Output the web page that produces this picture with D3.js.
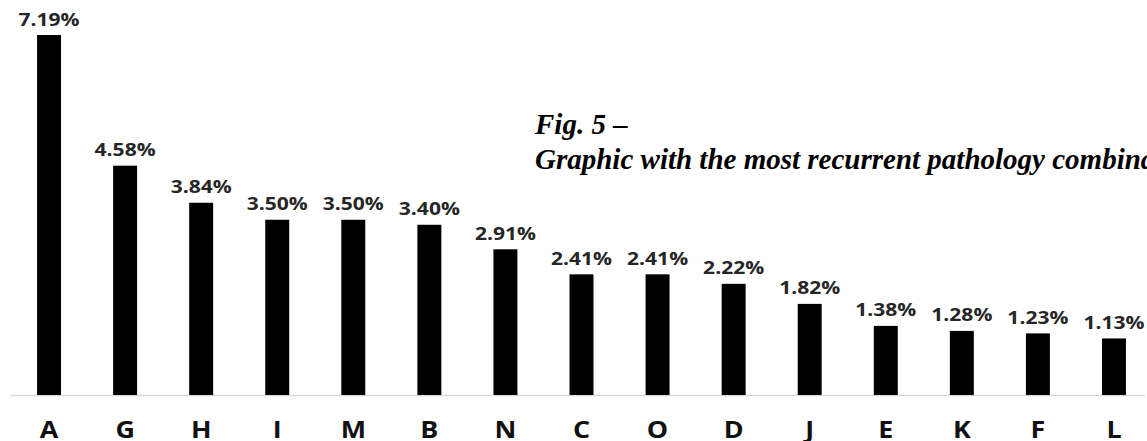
<!DOCTYPE html>
<html>
<head>
<meta charset="utf-8">
<script src="https://cdn.jsdelivr.net/npm/d3@7"></script>
<style>
  html, body { margin: 0; padding: 0; background: #fff; overflow: hidden; }
  svg { display: block; }
</style>
</head>
<body>
<svg id="chart" width="1147" height="441"></svg>
<script>
// Share of each pathology combination (%), sorted high to low
const categories = ["A", "G", "H", "I", "M", "B", "N", "C", "O", "D", "J", "E", "K", "F", "L"];
const values = [7.19, 4.58, 3.84, 3.50, 3.50, 3.40, 2.91, 2.41, 2.41, 2.22, 1.82, 1.38, 1.28, 1.23, 1.13];
const valueLabels = ["7.19%", "4.58%", "3.84%", "3.50%", "3.50%", "3.40%", "2.91%", "2.41%", "2.41%", "2.22%", "1.82%", "1.38%", "1.28%", "1.23%", "1.13%"];
const titleLines = ["Fig. 5 \u2013", "Graphic with the most recurrent pathology combinations"];

const baseY = 395;
const svg = d3.select("#chart");

const x = d3.scaleBand()
  .domain(categories)
  .range([11, 1152])
  .paddingInner(0.685)
  .paddingOuter(0.3425);

const y = d3.scaleLinear()
  .domain([0, 7.19])
  .range([baseY, 35]);

// baseline
svg.append("line")
  .attr("x1", 10).attr("x2", 1145)
  .attr("y1", baseY + 0.5).attr("y2", baseY + 0.5)
  .attr("stroke", "#d9d9d9")
  .attr("stroke-width", 1.5);

// bars
svg.append("g").selectAll("rect")
  .data(values)
  .join("rect")
  .attr("x", (d, i) => x(categories[i]))
  .attr("width", x.bandwidth())
  .attr("y", d => y(d))
  .attr("height", d => baseY - y(d))
  .attr("fill", "#000");

// value labels above bars
svg.append("g").selectAll("text")
  .data(values)
  .join("text")
  .attr("transform", (d, i) =>
    `translate(${x(categories[i]) + x.bandwidth() / 2},${y(d) - 9.5}) scale(1.17,1)`)
  .attr("text-anchor", "middle")
  .attr("font-family", "'Open Sans', sans-serif")
  .attr("font-weight", 700)
  .attr("font-size", 18)
  .attr("fill", "#262626")
  .text((d, i) => valueLabels[i]);

// category axis
const xAxis = d3.axisBottom(x).tickSize(0).tickPadding(0);
const axisG = svg.append("g")
  .attr("transform", `translate(0,${baseY})`)
  .call(xAxis);
axisG.select(".domain").remove();
axisG.selectAll(".tick text")
  .attr("y", 0)
  .attr("dy", 0)
  .attr("transform", "translate(0,43) scale(1.12,1)")
  .attr("font-family", "'Open Sans', sans-serif")
  .attr("font-weight", 700)
  .attr("font-size", 24)
  .attr("fill", "#111");

// caption
const cap = svg.append("g")
  .attr("font-family", "'Liberation Serif', 'Times New Roman', serif")
  .attr("font-style", "italic")
  .attr("font-weight", 700)
  .attr("font-size", 29)
  .attr("fill", "#000");
cap.selectAll("text")
  .data(titleLines)
  .join("text")
  .attr("x", 535)
  .attr("y", (d, i) => i === 0 ? 134 : 169)
  .text(d => d);
</script>
</body>
</html>
